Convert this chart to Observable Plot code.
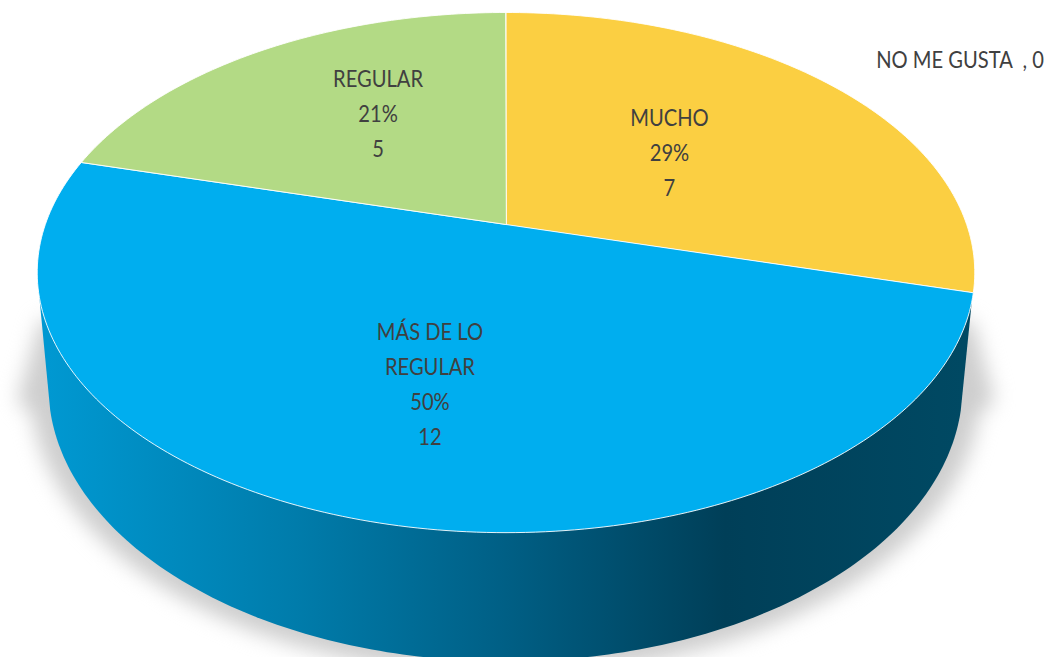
<!DOCTYPE html>
<html>
<head>
<meta charset="utf-8">
<script src="https://cdn.jsdelivr.net/npm/d3@7"></script>
<script src="https://cdn.jsdelivr.net/npm/@observablehq/plot@0.6"></script>
<style>
html,body{margin:0;padding:0;background:#fff;overflow:hidden}
svg{display:block}
</style>
</head>
<body>
<div id="chart"></div>
<script>
// Data
const categories = ["MUCHO", "MÁS DE LO REGULAR", "REGULAR", "NO ME GUSTA"];
const counts = [7, 12, 5, 0];
const lines = [["MUCHO"], ["MÁS DE LO", "REGULAR"], ["REGULAR"], ["NO ME GUSTA"]];

// Style
const colors = ["#FBCF42", "#00AEEF", "#B3DA85", "#A5A5A5"];
const labelRadius = [0.48, 0.586, 0.53, 1];
const labelDx = [-3, 2, 10, 454];
const labelDy = [-5, -2, -16, 44];

// Layout of the perspective disc
const W = 1048, H = 657;
const cx = 505.5, cy = 224, A = 460.7, B = 251.2, k = 0.1848;
const disc = (deg, r = 1) => {
  const a = deg * Math.PI / 180, u = r * Math.sin(a), v = r * Math.cos(a), w = 1 + k * v;
  return [cx + A * u / w, cy - B * v / w];
};
const floor = (deg, rx = 457, ry = 275, y0 = 386) => {
  const a = deg * Math.PI / 180;
  return [505 + rx * Math.cos(a), y0 + ry * Math.sin(a)];
};

// Slices
const total = d3.sum(counts);
let start = 0;
const slices = [], labels = [];
categories.forEach((name, i) => {
  const sweep = counts[i] / total * 360, end = start + sweep;
  if (sweep > 0) {
    slices.push([cx, cy, name]);
    for (let d = start; d <= end + 1e-6; d += 1) { const p = disc(d); slices.push([p[0], p[1], name]); }
    const p = disc(end); slices.push([p[0], p[1], name]);
  }
  const mid = (start + end) / 2;
  const pos = disc(mid % 360, labelRadius[i]);
  const pct = Math.round(counts[i] / total * 100) + "%";
  const text = counts[i] > 0 ? [...lines[i], pct, counts[i]].join("\n") : lines[i][0] + "\u00a0\u00a0, " + counts[i];
  labels.push({x: pos[0] + labelDx[i], y: pos[1] + labelDy[i], text});
  start = end;
});

// Side wall and shadow
const side = [disc(107)];
for (let d = 5; d <= 175; d += 1) side.push(floor(d));
side.push(disc(254));
const shadow = [[972, 320], [994, 400]];
for (let d = 5; d <= 175; d += 1) shadow.push(floor(d, 475, 285, 389));
shadow.push([17, 400], [40, 320]);

const defs = () => d3.create("svg:defs").html(`
  <linearGradient id="wall" gradientUnits="userSpaceOnUse" x1="48" x2="962" y1="0" y2="0">
    <stop offset="0" stop-color="#0098d1"/>
    <stop offset="0.27" stop-color="#007cab"/>
    <stop offset="0.5" stop-color="#005f85"/>
    <stop offset="0.74" stop-color="#003f58"/>
    <stop offset="1" stop-color="#004963"/>
  </linearGradient>`).node();

const narrow = (index, scales, values, dims, context, next) => {
  const g = next(index, scales, values, dims, context);
  d3.select(g).selectAll("text").attr("transform", function () {
    return (this.getAttribute("transform") || "") + " scale(0.875,1)";
  });
  return g;
};

const plot = Plot.plot({
  width: W, height: H,
  margin: 0,
  x: {domain: [0, W], range: [0, W], axis: null},
  y: {domain: [0, H], range: [0, H], axis: null},
  color: {domain: categories, range: colors},
  style: {background: "transparent"},
  marks: [
    defs,
    Plot.line(shadow, {x: "0", y: "1", curve: "linear-closed", fill: "#cecece", stroke: "none", imageFilter: "blur(10px)"}),
    Plot.line(side, {x: "0", y: "1", curve: "linear-closed", fill: "url(#wall)", stroke: "none"}),
    Plot.line(slices, {x: "0", y: "1", z: "2", fill: "2", curve: "linear-closed", stroke: "#fff", strokeWidth: 0.9, strokeLinejoin: "round"}),
    Plot.text(labels, {
      x: "x", y: "y", text: "text",
      lineHeight: 1.53, fontSize: 23, fill: "#404040",
      fontFamily: "Lato, 'Open Sans', sans-serif",
      render: narrow
    })
  ]
});
document.getElementById("chart").append(plot);
</script>
</body>
</html>
